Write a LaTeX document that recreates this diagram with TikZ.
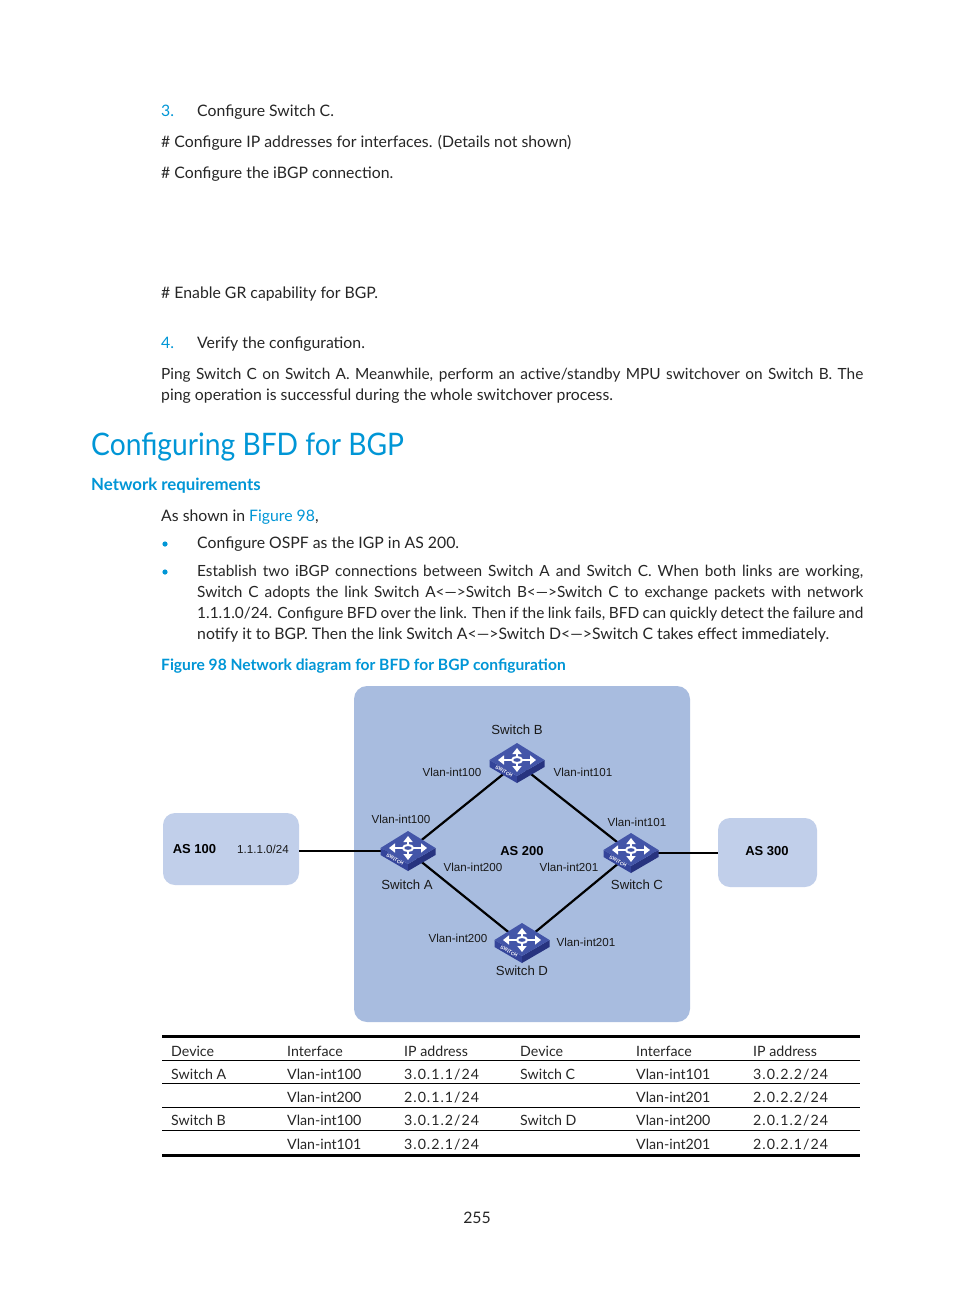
\documentclass[tikz,border=0pt]{standalone}
\usepackage{fontspec}
\setmainfont{Lato}
\newfontfamily\labelfont{Liberation Sans}
\usetikzlibrary{arrows.meta}
\definecolor{hpblue}{HTML}{0096D6}
\definecolor{asdark}{HTML}{A8BCDF}
\definecolor{aslight}{HTML}{C1CFEA}
\definecolor{swtop}{HTML}{4355A8}
\definecolor{swleft}{HTML}{34449A}
\definecolor{swright}{HTML}{27337F}
\tikzset{
  bodytext/.style={anchor=base west, inner sep=0pt, font=\fontsize{15.8}{18}\selectfont, text=black!85},
  fulltext/.style={bodytext, font=\fontsize{15.4}{18}\selectfont},
  bluetext/.style={bodytext, text=hpblue},
  celltext/.style={anchor=base west, inner sep=0pt, font=\fontsize{14.2}{18}\selectfont, text=black!85},
  ipcell/.style={celltext, font=\fontsize{14.2}{18}\selectfont\addfontfeatures{LetterSpace=7}},
  netlabel/.style={inner sep=0pt, font=\labelfont\fontsize{11.6}{14}\selectfont, text=black!90},
  namelabel/.style={netlabel, font=\labelfont\fontsize{13.2}{15}\selectfont},
  aslabel/.style={inner sep=0pt, font=\labelfont\bfseries\fontsize{13}{14}\selectfont},
  switchnode/.style={inner sep=0pt, minimum size=1pt},
  aslink/.style={line width=2.2pt, black},
  whitearrow/.style={white, line width=2.2pt, -{Triangle[length=6pt,width=9pt]}},
  switchicon/.pic={
    \fill[swleft] (-27.5,-3) -- (0,13) -- (0,20) -- (-27.5,4) -- cycle;
    \fill[swright] (27.5,-3) -- (0,13) -- (0,20) -- (27.5,4) -- cycle;
    \fill[swtop] (-27.5,-3) -- (0,-20) -- (27.5,-3) -- (0,13) -- cycle;
    \draw[whitearrow] (5,-3) -- (19,-3);
    \draw[whitearrow] (-5,-3) -- (-19,-3);
    \draw[whitearrow] (0,-6) -- (0,-15);
    \draw[whitearrow] (0,0) -- (0,9);
    \draw[white, line width=2pt] (0,-3) ellipse (5 and 3);
    \node[rotate=-30, inner sep=0pt, text=white, font=\labelfont\bfseries\fontsize{4.8}{5}\selectfont] at (-13,8.5) {SWITCH};
  },
}
\begin{document}
\begin{tikzpicture}[x=1pt, y=-1pt]
    \useasboundingbox (0,0) rectangle (954,1296);
    \fill[white] (0,0) rectangle (954,1296);

    % Text above the figure
    \node[bluetext] (stepC) at (161,116) {3.};
    \node[bodytext] (stepCtext) at (197,116) {Configure Switch C.};
    \node[bodytext] (cfgIP) at (161,147) {\# Configure IP addresses for interfaces. (Details not shown)};
    \node[bodytext] (cfgIBGP) at (161,178) {\# Configure the iBGP connection.};
    \node[bodytext] (cfgGR) at (161,298) {\# Enable GR capability for BGP.};
    \node[bluetext] (stepV) at (161,348) {4.};
    \node[bodytext] (stepVtext) at (197,348) {Verify the configuration.};
    \node[fulltext] (ping1) at (161,379) {\makebox[702pt][s]{Ping Switch C on Switch A. Meanwhile, perform an active/standby MPU switchover on Switch B. The}};
    \node[bodytext] (ping2) at (161,400) {ping operation is successful during the whole switchover process.};

    % Headings
    \node[bluetext, font=\fontsize{31}{38}\selectfont] (title) at (91,455) {\scalebox{0.91}[1]{Configuring BFD for BGP}};
    \node[bluetext, font=\bfseries\fontsize{16.8}{20}\selectfont] (netreq) at (91,490) {Network requirements};

    % Requirements
    \node[bodytext] (shown) at (161,521) {As shown in \textcolor{hpblue}{Figure 98},};
    \fill[hpblue] (165,544) circle (2.6);
    \node[bodytext] (req1) at (197,548) {Configure OSPF as the IGP in AS 200.};
    \fill[hpblue] (165,572) circle (2.6);
    \node[fulltext] (req2a) at (197,576) {\makebox[666pt][s]{Establish two iBGP connections between Switch A and Switch C. When both links are working,}};
    \node[fulltext] (req2b) at (197,597) {\makebox[666pt][s]{Switch C adopts the link Switch A<—>Switch B<—>Switch C to exchange packets with network}};
    \node[fulltext] (req2c) at (197,618) {\makebox[666pt][s]{1.1.1.0/24. Configure BFD over the link. Then if the link fails, BFD can quickly detect the failure and}};
    \node[bodytext] (req2d) at (197,639) {notify it to BGP. Then the link Switch A<—>Switch D<—>Switch C takes effect immediately.};
    \node[bluetext, font=\bfseries\fontsize{15.6}{18}\selectfont] (caption) at (161,670) {Figure 98 Network diagram for BFD for BGP configuration};

    % AS areas
    \node[fill=asdark, rounded corners=13pt, minimum width=336pt, minimum height=336pt, inner sep=0pt] (as200box) at (522,854) {};
    \node[fill=aslight, rounded corners=12pt, minimum width=136pt, minimum height=72pt, inner sep=0pt] (as100box) at (231,849) {};
    \node[fill=aslight, rounded corners=12pt, minimum width=99pt, minimum height=69pt, inner sep=0pt] (as300box) at (767.5,852.5) {};

    % Switches and links
    \node[switchnode] (swA) at (408,851) {};
    \node[switchnode] (swB) at (517,763) {};
    \node[switchnode] (swC) at (631,853) {};
    \node[switchnode] (swD) at (522,943) {};
    \draw[aslink] (swA) -- (swB);
    \draw[aslink] (swB) -- (swC);
    \draw[aslink] (swA) -- (swD);
    \draw[aslink] (swD) -- (swC);
    \draw[aslink] (as100box.east |- swA) -- (swA);
    \draw[aslink] (swC) -- (as300box.west |- swC);
    \pic at (swA) {switchicon};
    \pic at (swB) {switchicon};
    \pic at (swC) {switchicon};
    \pic at (swD) {switchicon};

    % Labels
    \node[aslabel] (as100) at (194.5,849) {AS 100};
    \node[netlabel] (prefix) at (263,849.5) {1.1.1.0/24};
    \node[aslabel] (as200) at (522,851.5) {AS 200};
    \node[aslabel] (as300) at (767,851.5) {AS 300};
    \node[namelabel] (nameB) at (517,730) {Switch B};
    \node[namelabel] (nameA) at (407,885) {Switch A};
    \node[namelabel] (nameC) at (637,885) {Switch C};
    \node[namelabel] (nameD) at (522,971) {Switch D};
    \node[netlabel] (vlanB100) at (452,772) {Vlan-int100};
    \node[netlabel] (vlanB101) at (583,772) {Vlan-int101};
    \node[netlabel] (vlanA100) at (401,819) {Vlan-int100};
    \node[netlabel] (vlanC101) at (637,822) {Vlan-int101};
    \node[netlabel] (vlanA200) at (473,867) {Vlan-int200};
    \node[netlabel] (vlanC201) at (569,867) {Vlan-int201};
    \node[netlabel] (vlanD200) at (458,938) {Vlan-int200};
    \node[netlabel] (vlanD201) at (586,942) {Vlan-int201};

    % Table rules
    \draw[line width=3pt] (162,1036) -- (860,1036);
    \draw[line width=0.8pt] (162,1060.5) -- (860,1060.5);
    \draw[line width=0.8pt] (162,1083.5) -- (860,1083.5);
    \draw[line width=0.8pt] (162,1107) -- (860,1107);
    \draw[line width=0.8pt] (162,1130.5) -- (860,1130.5);
    \draw[line width=3pt] (162,1155) -- (860,1155);

    % Table header
    \node[celltext] (headA) at (171,1056) {Device};
    \node[celltext] (headB) at (287,1056) {Interface};
    \node[celltext] (headC) at (404,1056) {IP address};
    \node[celltext] (headD) at (520,1056) {Device};
    \node[celltext] (headE) at (636,1056) {Interface};
    \node[celltext] (headF) at (753,1056) {IP address};

    % Table rows
    \node[celltext] (rowAa) at (171,1079) {Switch A};
    \node[celltext] (rowAb) at (287,1079) {Vlan-int100};
    \node[ipcell] (rowAc) at (404,1079) {3.0.1.1/24};
    \node[celltext] (rowAd) at (520,1079) {Switch C};
    \node[celltext] (rowAe) at (636,1079) {Vlan-int101};
    \node[ipcell] (rowAf) at (753,1079) {3.0.2.2/24};
    \node[celltext] (rowBb) at (287,1102) {Vlan-int200};
    \node[ipcell] (rowBc) at (404,1102) {2.0.1.1/24};
    \node[celltext] (rowBe) at (636,1102) {Vlan-int201};
    \node[ipcell] (rowBf) at (753,1102) {2.0.2.2/24};
    \node[celltext] (rowCa) at (171,1125) {Switch B};
    \node[celltext] (rowCb) at (287,1125) {Vlan-int100};
    \node[ipcell] (rowCc) at (404,1125) {3.0.1.2/24};
    \node[celltext] (rowCd) at (520,1125) {Switch D};
    \node[celltext] (rowCe) at (636,1125) {Vlan-int200};
    \node[ipcell] (rowCf) at (753,1125) {2.0.1.2/24};
    \node[celltext] (rowDb) at (287,1149) {Vlan-int101};
    \node[ipcell] (rowDc) at (404,1149) {3.0.2.1/24};
    \node[celltext] (rowDe) at (636,1149) {Vlan-int201};
    \node[ipcell] (rowDf) at (753,1149) {2.0.2.1/24};

    % Page number
    \node[bodytext, anchor=base] (pagenum) at (477,1223) {255};
\end{tikzpicture}
\end{document}
